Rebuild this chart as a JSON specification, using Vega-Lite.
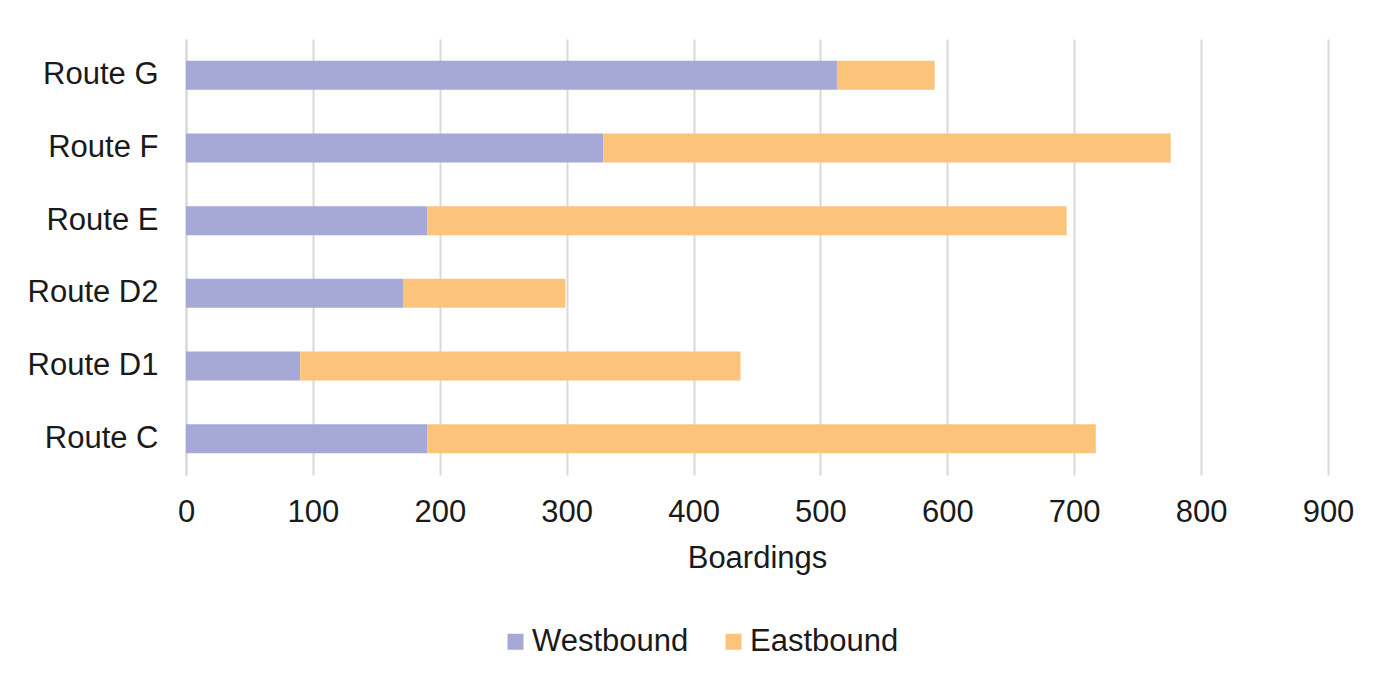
{
  "$schema": "https://vega.github.io/schema/vega-lite/v6.json",
  "width": 1142,
  "height": 436,
  "autosize": {"type": "none"},
  "padding": {"left": 186, "top": 39, "right": 69, "bottom": 213},
  "background": "white",
  "data": {"values": [
    {"route": "Route G", "dir": "Westbound", "o": 1, "v": 513},
    {"route": "Route G", "dir": "Eastbound", "o": 2, "v": 77},
    {"route": "Route F", "dir": "Westbound", "o": 1, "v": 329},
    {"route": "Route F", "dir": "Eastbound", "o": 2, "v": 447},
    {"route": "Route E", "dir": "Westbound", "o": 1, "v": 190},
    {"route": "Route E", "dir": "Eastbound", "o": 2, "v": 504},
    {"route": "Route D2", "dir": "Westbound", "o": 1, "v": 171},
    {"route": "Route D2", "dir": "Eastbound", "o": 2, "v": 128},
    {"route": "Route D1", "dir": "Westbound", "o": 1, "v": 90},
    {"route": "Route D1", "dir": "Eastbound", "o": 2, "v": 347},
    {"route": "Route C", "dir": "Westbound", "o": 1, "v": 190},
    {"route": "Route C", "dir": "Eastbound", "o": 2, "v": 527}
  ]},
  "mark": {"type": "bar"},
  "encoding": {
    "y": {
      "field": "route", "type": "nominal",
      "sort": ["Route G", "Route F", "Route E", "Route D2", "Route D1", "Route C"],
      "scale": {"paddingInner": 0.6, "paddingOuter": 0.3},
      "axis": {"title": null, "ticks": false, "domain": true, "domainColor": "#D9D9D9", "domainWidth": 2,
               "labelFont": "Liberation Sans", "labelFontSize": 31, "labelColor": "#1a1a1a", "labelPadding": 28}
    },
    "x": {
      "field": "v", "type": "quantitative", "stack": "zero",
      "scale": {"domain": [0, 900]},
      "axis": {"title": "Boardings", "values": [0,100,200,300,400,500,600,700,800,900],
               "ticks": false, "domain": false, "grid": true, "gridColor": "#D9D9D9", "gridWidth": 2, "labelFlush": false,
               "labelFont": "Liberation Sans", "labelFontSize": 31, "labelColor": "#1a1a1a", "labelPadding": 22,
               "titleFont": "Liberation Sans", "titleFontSize": 31, "titleFontWeight": "normal", "titleColor": "#1a1a1a", "titlePadding": 16}
    },
    "color": {
      "field": "dir", "type": "nominal",
      "scale": {"domain": ["Westbound", "Eastbound"], "range": ["#A6A8D6", "#FCC37A"]},
      "legend": {"title": null, "orient": "none", "direction": "horizontal", "legendX": 314, "legendY": 587,
                 "symbolType": "square", "symbolSize": 256, "symbolStrokeWidth": 0,
                 "labelFont": "Liberation Sans", "labelFontSize": 31, "labelColor": "#1a1a1a", "columnPadding": 29, "labelOffset": 1}
    },
    "order": {"field": "o", "type": "quantitative"}
  },
  "config": {"view": {"stroke": null}}
}
